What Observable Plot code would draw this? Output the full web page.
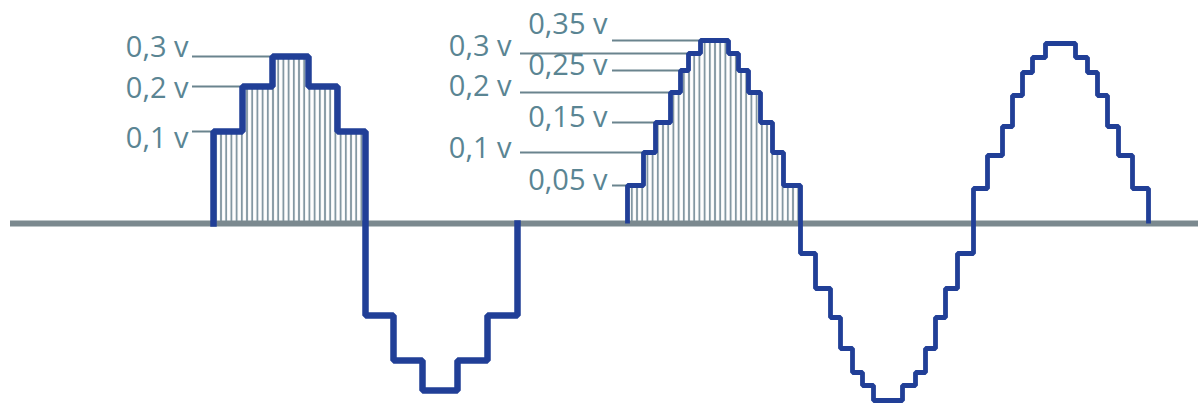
<!DOCTYPE html>
<html><head><meta charset="utf-8">
<script src="https://cdn.jsdelivr.net/npm/d3@7"></script>
<script src="https://cdn.jsdelivr.net/npm/@observablehq/plot@0.6"></script>
<style>
  html,body{margin:0;padding:0;background:#fff;}
  #chart svg{display:block;}
</style>
</head><body><div id="chart"></div>
<script>
// Coarse sampled wave (3 levels per quarter): step start times and held amplitude
const coarseTimes  = [213, 242, 272, 308, 337, 365, 393, 422, 457, 487, 517];
const coarseLevels = [92, 137, 167, 137, 92, -92, -137, -167, -137, -92, 0];

// Fine sampled wave (7 levels per quarter)
const fineTimes  = [627, 643, 655, 670, 680, 688, 700, 728, 738, 748, 760, 772, 783,
                    800, 815, 830, 840, 852, 862, 873, 902, 915, 925, 935, 945, 957,
                    973, 987, 1002, 1012, 1022, 1032, 1045, 1075, 1087, 1097, 1107, 1118, 1132, 1148];
const fineLevels = [38, 71, 101, 131, 153, 170, 183, 170, 153, 131, 101, 71, 38,
                    -30, -65, -94, -125, -149, -162, -177, -162, -149, -125, -94, -65, -30,
                    35, 68, 97, 128, 151, 166, 180, 166, 151, 128, 97, 68, 35, 0];

// Voltage labels
const coarseLabels      = ["0,3 v", "0,2 v", "0,1 v"];
const coarseLabelLevels = [167, 137, 92];
const fineLabelsA       = ["0,3 v", "0,2 v", "0,1 v"];
const fineLabelLevelsA  = [170, 131, 71];
const fineLabelsB       = ["0,35 v", "0,25 v", "0,15 v", "0,05 v"];
const fineLabelLevelsB  = [183, 153, 101, 38];

// Axis (time) extent
const axisExtent = [10, 1198];

// ---- build rows ----
function waveRows(times, levels) {
  return [{t: times[0], v: 0}, ...times.map((t, i) => ({t, v: levels[i]}))];
}
function firstLobe(times, levels) {
  const rows = [];
  for (let i = 0; i < times.length; i++) {
    if (levels[i] <= 0) { rows.push({t: times[i], v: 0}); break; }
    rows.push({t: times[i], v: levels[i]});
  }
  return rows;
}
function labelRows(texts, lvls, times, levels, lineStart, textEnd, shifts) {
  return texts.map((text, i) => {
    const idx = levels.findIndex(v => v >= lvls[i]);
    return {text, level: lvls[i], x1: lineStart, x2: times[idx], tx: textEnd, ty: lvls[i] - shifts[i]};
  });
}

const coarse = waveRows(coarseTimes, coarseLevels);
const fine = waveRows(fineTimes, fineLevels);
const coarseArea = firstLobe(coarseTimes, coarseLevels);
const fineArea = firstLobe(fineTimes, fineLevels);

const labL = labelRows(coarseLabels, coarseLabelLevels, coarseTimes, coarseLevels, 192, 188, [ -9, 2, 7]);
const labA = labelRows(fineLabelsA, fineLabelLevelsA, fineTimes, fineLevels, 520, 511, [ -7, -6, -4]);
const labB = labelRows(fineLabelsB, fineLabelLevelsB, fineTimes, fineLevels, 612, 607, [-16, -5, -5, -5]);
const labels = [...labL, ...labA, ...labB];

const blue = "#213f97";
const textColor = "#5a8593";
const lineColor = "#6a848e";
const font = "Open Sans, sans-serif";

const plot = Plot.plot({
  width: 1198,
  height: 403,
  margin: 0,
  x: {domain: [0, 1198], range: [0, 1198], axis: null},
  y: {domain: [-180, 223], range: [403, 0], axis: null},
  style: {background: "#fff", fontFamily: font},
  marks: [
    Plot.areaY(coarseArea, {x: "t", y: "v", curve: "step-after", fill: "url(#hatch)"}),
    Plot.areaY(fineArea, {x: "t", y: "v", curve: "step-after", fill: "url(#hatch)"}),
    Plot.ruleY([0], {x1: axisExtent[0], x2: axisExtent[1], stroke: "#7b898f", strokeWidth: 6}),
    Plot.ruleY(labels, {y: "level", x1: "x1", x2: "x2", stroke: lineColor, strokeWidth: 2}),
    Plot.text(labels, {x: "tx", y: "ty", text: "text", textAnchor: "end", fill: textColor,
                        fontSize: 29, fontFamily: font}),
    Plot.line(coarse, {x: "t", y: "v", curve: "step-after", stroke: blue, strokeWidth: 6.5,
                       strokeLinejoin: "miter", strokeLinecap: "square"}),
    Plot.line(fine, {x: "t", y: "v", curve: "step-after", stroke: blue, strokeWidth: 4.8,
                     strokeLinejoin: "miter", strokeLinecap: "butt"})
  ]
});

const svg = d3.select(plot);
const defs = svg.insert("defs", ":first-child");
const pat = defs.append("pattern").attr("id", "hatch").attr("patternUnits", "userSpaceOnUse")
  .attr("x", 0).attr("y", 0).attr("width", 5.2).attr("height", 20);
pat.append("rect").attr("width", 5.2).attr("height", 20).attr("fill", "#fff");
pat.append("line").attr("x1", 2.6).attr("x2", 2.6).attr("y1", 0).attr("y2", 20)
  .attr("stroke", "#8397a2").attr("stroke-width", 1.9);

document.getElementById("chart").appendChild(plot);
</script>
</body></html>
